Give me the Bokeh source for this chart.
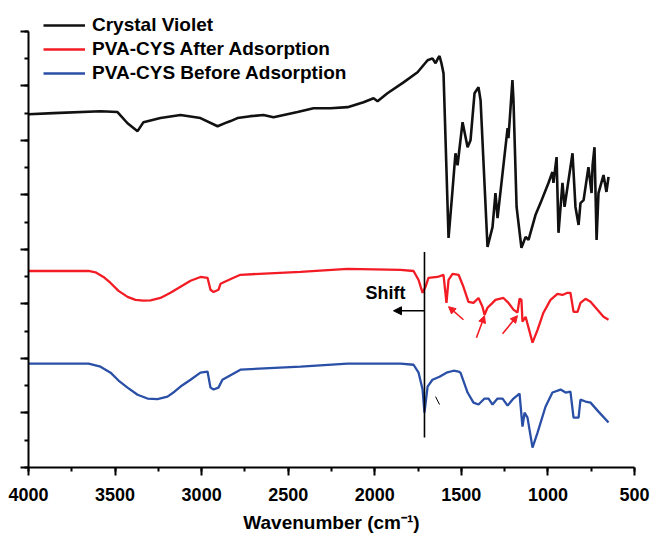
from bokeh.plotting import figure
from bokeh.models import (Range1d, SingleIntervalTicker, Legend, LegendItem,
                          Arrow, NormalHead, Label)
from bokeh.embed import file_html
from bokeh.resources import INLINE

# FTIR spectra (wavenumber in cm^-1, offset transmittance in arbitrary units)
cv_wn = [4000, 3856, 3584, 3486, 3428, 3370, 3336, 3238, 3122, 3007, 2908, 2851,
         2833, 2793, 2718, 2643, 2585, 2446, 2354, 2256, 2157, 2065, 2007, 1984,
         1927, 1834, 1753, 1695, 1667, 1649, 1632, 1626, 1615, 1603, 1574, 1551,
         1534, 1522, 1493, 1464, 1447, 1424, 1401, 1389, 1349, 1320, 1303, 1291,
         1233, 1228, 1205, 1199, 1181, 1153, 1129, 1112, 1072, 1043, 997, 974,
         968, 950, 939, 916, 904, 858, 841, 823, 812, 794, 766, 748, 742, 731,
         719, 708, 679, 662, 650]
cv_t = [12.96, 13.00, 13.07, 13.04, 12.63, 12.34, 12.67, 12.82, 12.93, 12.82, 12.52, 12.67,
        12.71, 12.82, 12.89, 12.93, 12.85, 13.04, 13.18, 13.18, 13.22, 13.40, 13.55, 13.44,
        13.73, 14.13, 14.50, 14.94, 15.01, 14.83, 15.05, 15.09, 14.83, 14.46, 8.42, 10.18,
        11.53, 11.09, 12.67, 11.75, 12.01, 13.73, 13.95, 13.47, 8.09, 8.82, 10.07, 9.15,
        12.45, 12.08, 14.21, 13.47, 9.56, 8.06, 8.46, 8.35, 9.26, 9.70, 10.44, 10.84,
        10.44, 11.39, 8.61, 10.44, 9.56, 11.53, 9.56, 8.90, 9.70, 9.81, 11.02, 10.07, 11.09, 11.75,
        8.35, 10.07, 10.73, 10.11, 10.66]

after_wn = [4000, 3653, 3613, 3567, 3526, 3480, 3428, 3382, 3336, 3295, 3238, 3180,
            3122, 3064, 3007, 2966, 2949, 2931, 2903,
            2891, 2816, 2776, 2429, 2157, 1851, 1776, 1747, 1724, 1707, 1690, 1638,
            1603, 1586, 1574, 1551, 1516, 1488, 1459, 1430, 1401, 1378, 1366, 1349,
            1320, 1303, 1257, 1228, 1199, 1176, 1164, 1153, 1147, 1129, 1089, 1060,
            1026, 985, 945, 916, 887, 870, 852, 829, 812, 783, 754, 714, 679, 650]
after_t = [7.21, 7.21, 7.16, 6.99, 6.77, 6.48, 6.26, 6.15, 6.12, 6.13, 6.22, 6.41,
           6.63, 6.85, 6.99, 6.96, 6.52, 6.44, 6.52,
           6.74, 6.96, 7.07, 7.18, 7.29, 7.25, 7.21, 6.88, 6.41, 6.63, 6.96, 6.99,
           7.07, 6.04, 6.88, 7.10, 7.07, 6.63, 6.08, 6.04, 6.22, 5.90, 5.60, 5.86,
           6.04, 6.15, 6.22, 6.04, 5.79, 5.68, 6.19, 6.15, 5.35, 5.53, 4.58, 5.05,
           5.68, 6.15, 6.37, 6.33, 6.41, 6.41, 5.71, 5.71, 6.04, 6.19, 6.08, 5.79, 5.53, 5.42]

before_wn = [4000, 3653, 3584, 3526, 3480, 3428, 3370, 3313, 3255, 3197, 3157, 3122,
             3064, 3007, 2966, 2949, 2931, 2903,
             2880, 2776, 2429, 2157, 1851, 1776, 1747, 1724, 1713, 1695, 1667, 1626,
             1586, 1545, 1516, 1505, 1464, 1430, 1401, 1366, 1343, 1320, 1291, 1262,
             1233, 1199, 1164, 1147, 1135, 1118, 1089, 1060, 1014, 974, 927, 898,
             870, 852, 823, 812, 783, 754, 708, 650]
before_t = [3.81, 3.81, 3.70, 3.48, 3.19, 2.93, 2.67, 2.53, 2.51, 2.60, 2.78, 2.97,
            3.22, 3.48, 3.52, 2.93, 2.86, 2.93,
            3.22, 3.59, 3.70, 3.81, 3.81, 3.77, 3.48, 2.86, 2.01, 2.97, 3.22, 3.33,
            3.48, 3.55, 3.52, 3.48, 2.75, 2.38, 2.31, 2.53, 2.53, 2.31, 2.53, 2.53,
            2.27, 2.53, 2.71, 1.50, 2.01, 1.83, 0.73, 1.28, 2.23, 2.75, 2.86, 2.75,
            2.78, 1.83, 1.83, 2.49, 2.42, 2.38, 2.05, 1.65]

labels = ["Crystal Violet", "PVA-CYS After Adsorption", "PVA-CYS Before Adsorption"]
colors = ["#111111", "#f31b24", "#2a4fa6"]

FONT = "Liberation Sans"
Y_TOP = 16  # last tick of the left axis
Y_VIEW = 16.84  # headroom above the axis for the legend

p = figure(width=656, height=535, output_backend="svg", toolbar_location=None,
           x_range=Range1d(4000, 500), y_range=Range1d(0, Y_VIEW),
           min_border_left=28, min_border_right=22, min_border_top=8,
           min_border_bottom=67)
p.outline_line_color = None
p.xgrid.visible = False
p.ygrid.visible = False
p.background_fill_color = "white"
p.border_fill_color = "white"

r_cv = p.line(cv_wn, cv_t, line_color=colors[0], line_width=2.6)
r_after = p.line(after_wn, after_t, line_color=colors[1], line_width=2.3)
r_before = p.line(before_wn, before_t, line_color=colors[2], line_width=2.3)

# axes
xa = p.xaxis[0]
xa.ticker = SingleIntervalTicker(interval=500, num_minor_ticks=2)
xa.axis_label = "Wavenumber (cm\u207b\u00b9)"
ya = p.yaxis[0]
ya.ticker = SingleIntervalTicker(interval=2, num_minor_ticks=2)
ya.bounds = (0, Y_TOP)
ya.major_label_overrides = {v: "" for v in range(0, Y_TOP + 1, 2)}
for ax in (xa, ya):
    ax.axis_line_width = 2
    ax.axis_line_color = "black"
    ax.major_tick_line_width = 2
    ax.minor_tick_line_width = 2
    ax.major_tick_in = 0
    ax.major_tick_out = 8
    ax.minor_tick_in = 0
    ax.minor_tick_out = 4
    ax.major_tick_line_color = "black"
    ax.minor_tick_line_color = "black"
xa.major_label_text_font = FONT
xa.major_label_text_font_style = "bold"
xa.major_label_text_font_size = "18px"
xa.major_label_text_color = "black"
xa.major_label_standoff = 12
xa.axis_label_text_font = FONT
xa.axis_label_text_font_style = "bold"
xa.axis_label_text_font_size = "19px"
xa.axis_label_text_color = "black"
xa.axis_label_standoff = 8

# annotations: band marker, shift arrow and red arrows
p.line([1713, 1713], [1.10, 7.91], line_color="black", line_width=1.6)
p.add_layout(Arrow(x_start=1713, y_start=5.75, x_end=1892, y_end=5.75,
                   line_color="black", line_width=1.6,
                   end=NormalHead(size=8, fill_color="black", line_color="black")))
p.add_layout(Label(x=2054, y=6.41, text="Shift", text_font=FONT,
                   text_font_style="bold", text_font_size="18px",
                   text_baseline="middle", text_color="black"))
red_arrows = [(1488, 5.42, 1574, 5.90), (1413, 4.76, 1366, 5.57), (1262, 4.91, 1176, 5.57)]
for x0, y0, x1, y1 in red_arrows:
    p.add_layout(Arrow(x_start=x0, y_start=y0, x_end=x1, y_end=y1,
                       line_color="#f31b24", line_width=1.6,
                       end=NormalHead(size=7, fill_color="#f31b24", line_color="#f31b24")))
p.line([1649, 1626], [2.60, 2.31], line_color="black", line_width=1)

legend = Legend(items=[LegendItem(label=labels[0], renderers=[r_cv]),
                       LegendItem(label=labels[1], renderers=[r_after]),
                       LegendItem(label=labels[2], renderers=[r_before])],
                location=(15, 383), orientation="vertical")
legend.border_line_color = None
legend.background_fill_alpha = 0
legend.padding = 0
legend.margin = 0
legend.spacing = 2
legend.glyph_width = 42
legend.glyph_height = 20
legend.label_height = 20
legend.label_standoff = 7
legend.label_text_font = FONT
legend.label_text_font_style = "bold"
legend.label_text_font_size = "19px"
legend.label_text_color = "black"
p.add_layout(legend, "center")

open("out.html", "w").write(file_html(p, INLINE))
